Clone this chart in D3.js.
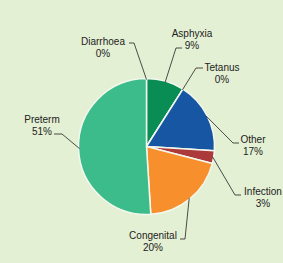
<!DOCTYPE html>
<html lang="en">
<head>
<meta charset="UTF-8">
<title>Neonatal deaths by cause</title>
<script src="https://cdn.jsdelivr.net/npm/d3@7"></script>
<style>
  html, body { margin: 0; padding: 0; background: #e4f0d3; }
  svg { display: block; }
  text { font-family: "Liberation Sans", Arial, sans-serif; font-size: 10px; fill: #222; }
</style>
</head>
<body>
<svg id="main" width="283" height="263"></svg>
<script>
  // data, clockwise from 12 o'clock
  var causes = ['Diarrhoea', 'Asphyxia', 'Tetanus', 'Other', 'Infection', 'Congenital', 'Preterm'];
  var shares = [0, 9, 0, 17, 3, 20, 51];
  var colors = ['#3cbc8b', '#0a8d55', '#1a9a60', '#1756a2', '#ad3a3a', '#f88f2d', '#3cbc8b'];

  // label layout: text centre x, baseline of first line, where leader leaves the text, elbow x
  var labelLayout = {
    Diarrhoea:  { tx: 103, ty: 45,  lx: 129, ly: 43,  ex: 134 },
    Asphyxia:   { tx: 192, ty: 37,  lx: 182, ly: 48,  ex: 176 },
    Tetanus:    { tx: 222, ty: 71,  lx: 203, ly: 68,  ex: 196 },
    Other:      { tx: 253, ty: 143, lx: 239, ly: 143, ex: 233 },
    Infection:  { tx: 263, ty: 195, lx: 241, ly: 195, ex: 235 },
    Congenital: { tx: 153, ty: 239, lx: 180, ly: 239, ex: 185 },
    Preterm:    { tx: 42,  ty: 123, lx: 54,  ly: 134, ex: 62 }
  };

  var svg = d3.select('svg#main');
  var cx = 146.5, cy = 146.5, radius = 68;

  // title cut off at the top of the picture
  svg.append('text')
    .attr('x', 219).attr('y', -3)
    .attr('text-anchor', 'end')
    .style('font-size', '11px')
    .text('Causes of neonatal deaths by')

  var data = causes.map(function(c, i) { return { cause: c, value: shares[i], color: colors[i] }; });

  var pie = d3.pie().sort(null).value(function(d) { return d.value; });
  var arc = d3.arc().innerRadius(0).outerRadius(radius);
  var arcs = pie(data);

  var g = svg.append('g').attr('transform', 'translate(' + cx + ',' + cy + ')');

  g.selectAll('path')
    .data(arcs)
    .enter()
    .append('path')
    .attr('d', arc)
    .attr('fill', function(d) { return d.data.color; })
    .attr('stroke', '#f2f8ee')
    .attr('stroke-width', 1.5)
    .attr('stroke-linejoin', 'round');

  // leader lines
  arcs.forEach(function(d) {
    var lay = labelLayout[d.data.cause];
    var mid = (d.startAngle + d.endAngle) / 2;
    var px = cx + Math.sin(mid) * (radius - 1);
    var py = cy - Math.cos(mid) * (radius - 1);
    svg.append('polyline')
      .attr('points', [[lay.lx, lay.ly], [lay.ex, lay.ly], [px, py]].map(function(p) { return p.join(','); }).join(' '))
      .attr('fill', 'none')
      .attr('stroke', '#222')
      .attr('stroke-width', 0.8);

    var t = svg.append('text')
      .attr('text-anchor', 'middle')
      .attr('x', lay.tx)
      .attr('y', lay.ty);
    t.append('tspan').attr('x', lay.tx).text(d.data.cause);
    t.append('tspan').attr('x', lay.tx).attr('dy', 11.5).text(d.data.value + '%');
  });
</script>
</body>
</html>
